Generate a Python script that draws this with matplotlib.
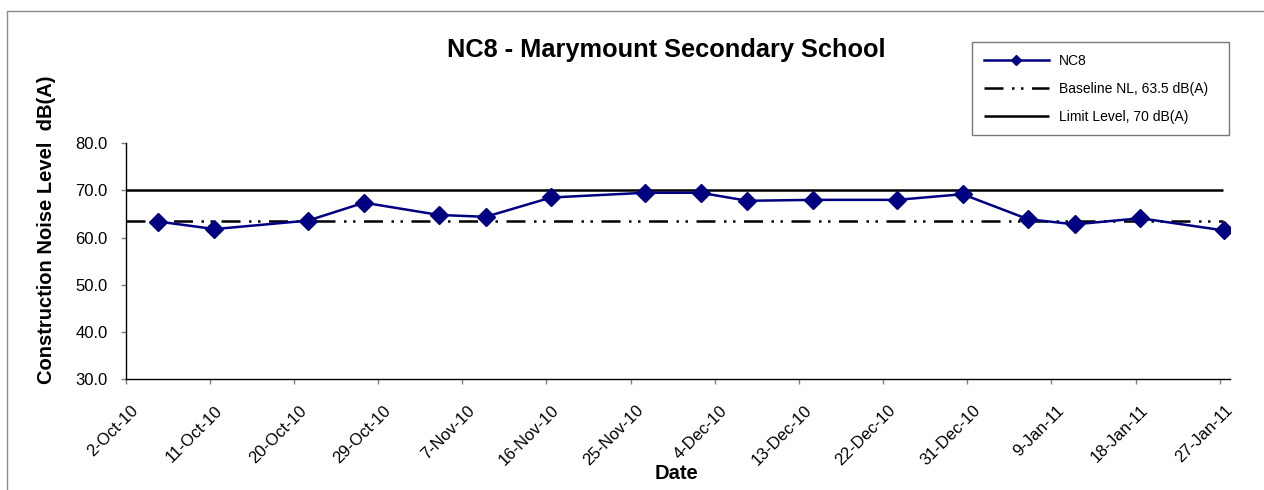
import matplotlib
matplotlib.use("Agg")
import matplotlib.pyplot as plt
import matplotlib.transforms as mtransforms
from matplotlib.patches import Rectangle
import pandas as pd

# measured noise levels, dB(A)
dates = ["2010-10-05", "2010-10-11", "2010-10-21", "2010-10-27", "2010-11-04",
         "2010-11-09", "2010-11-16", "2010-11-26", "2010-12-02", "2010-12-07",
         "2010-12-14", "2010-12-23", "2010-12-30", "2011-01-06", "2011-01-11",
         "2011-01-18", "2011-01-27"]
nc8 = [63.4, 61.8, 63.6, 67.4, 64.8, 64.4, 68.5, 69.5, 69.5, 67.8,
       68.0, 68.0, 69.2, 63.9, 62.8, 64.1, 61.5]
baseline = 63.5
limit = 70.0

tick_dates = pd.date_range("2010-10-02", "2011-01-27", freq="9D")
tick_labels = [f"{d.day}-{d.strftime('%b-%y')}" for d in tick_dates]
yticks = [30, 40, 50, 60, 70, 80]

plt.rcParams["font.family"] = ["Liberation Sans", "DejaVu Sans"]

fig = plt.figure(figsize=(12.64, 4.9), dpi=100)
ax = fig.add_axes([0.0994, 0.2265, 0.8737, 0.4811])

# Excel centres each point in its day
x = pd.to_datetime(dates) + pd.Timedelta(hours=12)
start = tick_dates[0]
end = start + pd.Timedelta(days=118.1)

ax.plot(x, nc8, color="#000080", lw=1.8, marker="D", ms=9,
        mec="#000080", mfc="#000080", label="NC8", zorder=3)
ax.hlines(baseline, start, start + pd.Timedelta(days=117.3), color="black", lw=1.8,
          linestyles=[(0, (7.6, 3.4, 1, 2.6, 1, 3.4))],
          label="Baseline NL, 63.5 dB(A)", zorder=2)
ax.hlines(limit, start, start + pd.Timedelta(days=117.3), color="black", lw=1.8,
          label="Limit Level, 70 dB(A)", zorder=2)

ax.set_xlim(start, end)
ax.set_ylim(30, 80)
ax.set_yticks(yticks)
ax.set_yticklabels([f"{v:.1f}" for v in yticks])
ax.set_xticks(tick_dates)
ax.set_xticklabels(tick_labels)

for s in ["top", "right"]:
    ax.spines[s].set_visible(False)
for s in ["left", "bottom"]:
    ax.spines[s].set_color("black")
    ax.spines[s].set_linewidth(1)

ax.tick_params(axis="y", direction="out", length=3.6, width=1, color="#808080",
               pad=9.4, labelsize=12, labelcolor="black")
ax.tick_params(axis="x", direction="out", length=3.6, width=1, color="#808080",
               pad=13.5, labelsize=12, labelcolor="black")
offset = mtransforms.ScaledTranslation(0.05, 0, fig.dpi_scale_trans)
for lab in ax.get_xticklabels():
    lab.set_rotation(45)
    lab.set_ha("right")
    lab.set_va("top")
    lab.set_rotation_mode("anchor")
    lab.set_transform(lab.get_transform() + offset)

fig.text(0.527, 0.898, "NC8 - Marymount Secondary School", ha="center", va="center",
         fontsize=18.3, fontweight="bold")
fig.text(0.0364, 0.531, "Construction Noise Level  dB(A)", rotation=90,
         ha="center", va="center", fontsize=14.5, fontweight="bold")
fig.text(0.5356, 0.0327, "Date", ha="center", va="center",
         fontsize=14.5, fontweight="bold")

leg = fig.legend(loc="upper left", bbox_to_anchor=(0.769, 0.7408, 0.2033, 0.1735),
                 mode="expand", fontsize=10, frameon=True, fancybox=False,
                 borderpad=0.85, labelspacing=1.0, handlelength=4.7,
                 handletextpad=0.7, markerscale=0.55, borderaxespad=0)
leg.get_frame().set_edgecolor("#555555")
leg.get_frame().set_linewidth(1)

# outer chart border (cut off at the right and bottom)
fig.patches.append(Rectangle((7 / 1264, -0.1), 1.2, 1 - 11 / 490 + 0.1,
                             transform=fig.transFigure, fill=False,
                             edgecolor="#8c8c8c", lw=1))

fig.savefig("out.png", dpi=100)
